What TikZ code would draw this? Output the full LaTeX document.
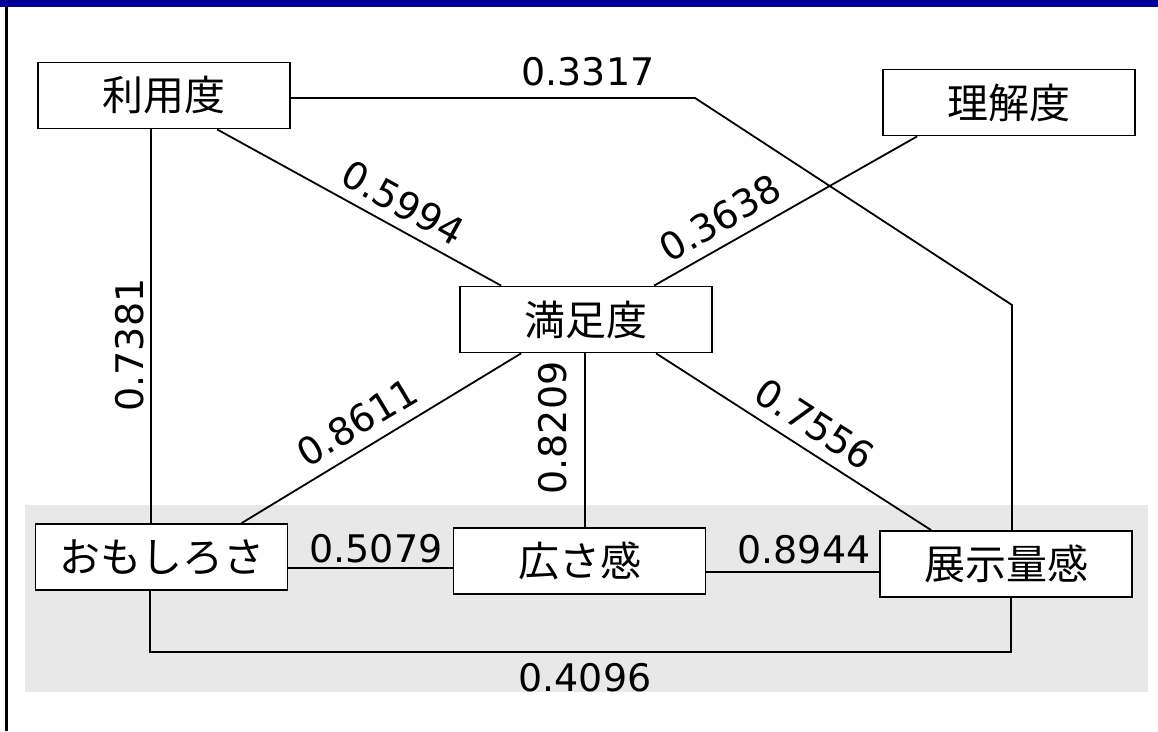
\documentclass[tikz,border=0pt]{standalone}
\usepackage{fontspec}
\newfontfamily\jpfont{Noto Sans CJK JP}
\newfontfamily\numfont{DejaVu Sans}
\definecolor{barblue}{RGB}{0,0,153}
\definecolor{band}{RGB}{232,232,232}
\begin{document}
\begin{tikzpicture}[x=1pt,y=-1pt,
  box/.style={draw=black,line width=1.8pt,fill=white,minimum width=252pt,minimum height=66pt,inner sep=0pt,
    font=\jpfont\fontsize{41}{41}\selectfont},
  conn/.style={draw=black,line width=1.8pt},
  lab/.style={font=\numfont\fontsize{38}{38}\selectfont,inner sep=0pt}]
\useasboundingbox (0,0) rectangle (1158,731);
\fill[white] (0,0) rectangle (1158,731);
% background band and frame
\fill[band] (25,505) rectangle (1148,692);
\fill[barblue] (0,0) rectangle (1158,7);
\draw[line width=3pt] (6.5,7) -- (6.5,731);
% nodes
\node[box] (ru) at (164,95.5) {利用度};
\node[box] (ri) at (1009,102.5) {理解度};
\node[box] (man) at (586,319.5) {満足度};
\node[box] (om) at (161.5,557) {おもしろさ};
\node[box] (hiro) at (579.5,561) {広さ感};
\node[box] (ten) at (1006,564) {展示量感};
\coordinate (c1) at (695,98);
\coordinate (c2) at (1012,305);
\coordinate (bot) at (585,652);
% connectors
\begin{scope}[on background layer/.style={}]
\draw[conn] ([xshift=114]ru.south west) -- ([xshift=114]ru.south west |- om.north);
\draw[conn] ([xshift=180]ru.south west) -- ([xshift=42]man.north west);
\draw[conn] ([xshift=35]ri.south west) -- ([xshift=195]man.north west);
\draw[conn] (ru.east |- c1) -- (c1) -- (c2) -- (c2 |- ten.north);
\draw[conn] ([xshift=62]man.south west) -- ([xshift=207]om.north west);
\draw[conn] ([xshift=-1]man.south) -- ([xshift=-1]man.south |- hiro.north);
\draw[conn] ([xshift=197]man.south west) -- ([xshift=52]ten.north west);
\draw[conn] ([yshift=-11]om.east) -- ([yshift=-11]om.east -| hiro.west);
\draw[conn] ([yshift=-11]hiro.east) -- ([yshift=-11]hiro.east -| ten.west);
\draw[conn] ([xshift=115]om.south west) |- (bot) -| ([xshift=132]ten.south west);
\end{scope}
% labels
\node[lab] (l1) at (588,72) {0.3317};
\node[lab,rotate=-29] (l2) at (403,203) {0.5994};
\node[lab,rotate=30] (l3) at (720,218) {0.3638};
\node[lab,rotate=90] (l4) at (130,345) {0.7381};
\node[lab,rotate=31] (l5) at (357,422) {0.8611};
\node[lab,rotate=90] (l6) at (553,428) {0.8209};
\node[lab,rotate=-33] (l7) at (815,424) {0.7556};
\node[lab] (l8) at (376,549) {0.5079};
\node[lab] (l9) at (804,550) {0.8944};
\node[lab] (l10) at (585,678) {0.4096};
\end{tikzpicture}
\end{document}
